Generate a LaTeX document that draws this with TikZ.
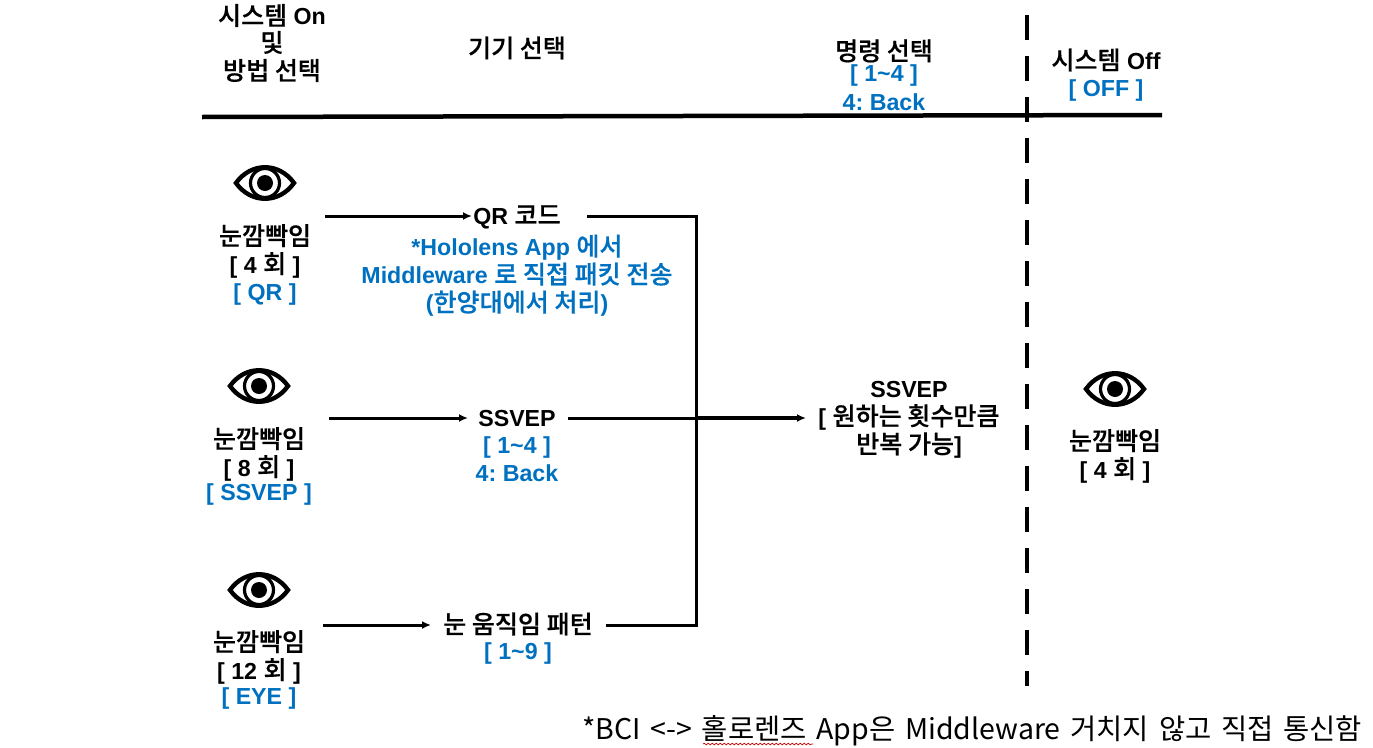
\documentclass[tikz,border=0pt]{standalone}
\usepackage{fontspec}
\setmainfont{Liberation Sans}
\newfontfamily\krfont[Scale=1.08,BoldFont={Noto Sans CJK KR Medium},BoldFeatures={FakeBold=0.5}]{Noto Sans CJK KR}
\newfontfamily\notefont{Noto Sans CJK KR}
\newcommand{\kr}[1]{{\krfont #1}}
\usetikzlibrary{arrows.meta,decorations.pathmorphing}
\definecolor{hlblue}{HTML}{0070C0}
\tikzset{
  basic/.style  = {inner sep=0pt, align=center, font=\fontsize{23.2}{28}\selectfont\bfseries\frenchspacing},
  blue text/.style = {basic, text=hlblue},
  flow/.style = {line width=3pt, -{Latex[length=9pt,width=8pt]}},
  link/.style = {line width=3pt},
  eyeicon/.pic = {
    \draw[line width=4.4pt, miter limit=10] (-29,0) .. controls (-14,-21) and (14,-21) .. (29,0)
      .. controls (14,21) and (-14,21) .. (-29,0) -- cycle;
    \draw[line width=3.2pt] (0,0) circle (14.5);
    \fill (0,0) circle (8);
  }
}
\begin{document}
\begin{tikzpicture}[x=1pt,y=-1pt]
\useasboundingbox (0,0) rectangle (1373,747);
% header row
\node[basic] (onhead) at (272,43) {\kr{시스템} On\\[-1pt]\kr{및}\\\kr{방법 선택}};
\node[basic] (devhead) at (517,48) {\kr{기기 선택}};
\node[basic] (cmdhead) at (884,51) {\kr{명령 선택}};
\node[blue text] (cmdnum) at (884,75) {[ 1\textasciitilde 4 ]};
\node[blue text] (cmdback) at (884,102) {4: Back};
\node[basic] (offhead) at (1106,60) {\kr{시스템} Off};
\node[blue text] (offkey) at (1106,90) {[ OFF ]};
\coordinate (ruleL) at (202,117);
\coordinate (ruleR) at (1162,115);
\draw[line width=4.5pt] (ruleL) -- (ruleR);
\coordinate (dashT) at (1027,15);
\coordinate (dashB) at (1027,686);
\draw[line width=4pt, dash pattern=on 25pt off 16pt] (dashT) -- (dashB);
% eyes
\pic at (265,183) {eyeicon};
\pic at (259,386) {eyeicon};
\pic at (259,590) {eyeicon};
\pic at (1115,389) {eyeicon};
% blink labels
\node[basic] (blink1) at (265,251) {\kr{눈깜빡임}\\{}[ 4 \kr{회} ]};
\node[blue text] (key1) at (265,294) {[ QR ]};
\node[basic] (blink2) at (259,454) {\kr{눈깜빡임}\\{}[ 8 \kr{회} ]};
\node[blue text] (key2) at (259,494) {[ SSVEP ]};
\node[basic] (blink3) at (259,657) {\kr{눈깜빡임}\\{}[ 12 \kr{회} ]};
\node[blue text] (key3) at (259,698) {[ EYE ]};
\node[basic] (blink4) at (1115,456) {\kr{눈깜빡임}\\{}[ 4 \kr{회} ]};
% device choice
\node[basic] (qr) at (517,217) {QR \kr{코드}};
\node[blue text] (qrnote) at (517,275.5) {*Hololens App \kr{에서}\\Middleware \kr{로 직접 패킷 전송}\\(\kr{한양대에서 처리})};
\node[basic] (ssvep) at (517,419) {SSVEP};
\node[blue text] (ssvepnote) at (517,459.5) {[ 1\textasciitilde 4 ]\\4: Back};
\node[basic] (eye) at (518,624) {\kr{눈 움직임 패턴}};
\node[blue text] (eyenote) at (518,653) {[ 1\textasciitilde 9 ]};
\node[basic] (repeat) at (909,419.5) {SSVEP\\{}[ \kr{원하는 횟수만큼}\\\kr{반복 가능}]};
% connectors
\coordinate (from1) at (325,216);
\coordinate (from2) at (329,418);
\coordinate (from3) at (323,625);
\coordinate (qrout) at (587,216);
\coordinate (eyeout) at (606,625);
\coordinate (ssvepout) at (568,418);
\coordinate (toqr) at (472,216);
\coordinate (tossvep) at (468,418);
\coordinate (toeye) at (431,625);
\coordinate (torepeat) at (806,418);
\draw[flow] (from1) -- (toqr);
\draw[flow] (from2) -- (tossvep);
\draw[flow] (from3) -- (toeye);
\draw[link] (qrout) -| (696,625) -- (eyeout);
\draw[link] (ssvepout) -- (696,418);
\draw[flow, line width=3.6pt] (696,418) -- (torepeat);
% footnote
\node[inner sep=0pt, anchor=west, font=\fontsize{28.5}{30}\selectfont\notefont] (note) at (582,731)
  {\hbox to 780pt{*BCI\hfil\ <->\hfil\ 홀로렌즈\hfil\ App은\hfil\ Middleware\hfil\ 거치지\hfil\ 않고\hfil\ 직접\hfil\ 통신함}};
\coordinate (waveL) at (703,744);
\coordinate (waveR) at (813,744);
\draw[red!80!black, line width=0.7pt, decorate, decoration={snake,amplitude=0.8pt,segment length=4pt}] (waveL) -- (waveR);
\end{tikzpicture}
\end{document}
